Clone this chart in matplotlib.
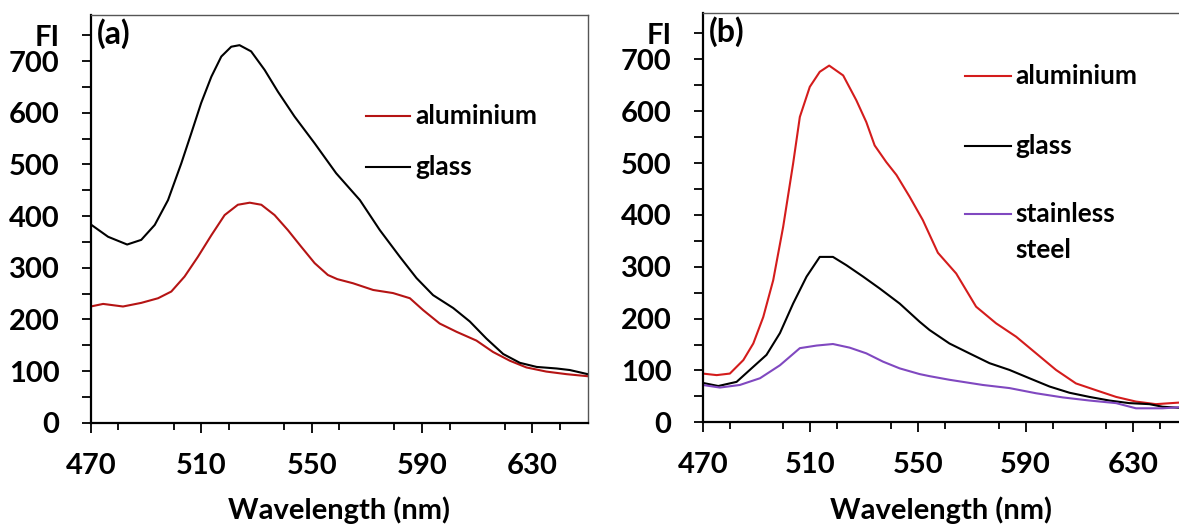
import matplotlib
matplotlib.use('Agg')
import matplotlib.pyplot as plt
from matplotlib.pyplot import MultipleLocator

plt.rcParams['font.family'] = ['Lato', 'DejaVu Sans']
plt.rcParams['font.weight'] = 'bold'

# panel (a) - smooth spectra
wl_a_glass = [470, 476.3, 483.2, 488.3, 493.2, 498, 502.8, 506.4, 510, 513.7, 517.3, 520.9,
              523.9, 528.1, 533, 537.8, 543.8, 551.1, 558.9, 567.5, 574.7, 582, 588, 594,
              601.3, 607.3, 613.3, 619.4, 625.4, 631.5, 638.7, 643.5, 650]
fi_a_glass = [384, 360, 345, 354, 383, 431, 502, 560, 619, 670, 709, 728,
              731, 719, 683, 641, 593, 541, 483, 431, 373, 321, 280, 247,
              222, 196, 163, 133, 116, 108, 105, 102, 94]
wl_a_alu = [470, 474.5, 481.7, 488.3, 494.4, 499.2, 504, 508.8, 513.7, 518.5, 523.3, 527.6,
            531.8, 536.6, 541.4, 546.2, 551.1, 555.9, 559.3, 565, 572.3, 579.5, 585.6,
            590.4, 596.4, 602.5, 609.7, 615.7, 621.8, 627.8, 635, 642.3, 650]
fi_a_alu = [225, 230, 225, 232, 241, 254, 283, 321, 363, 402, 422, 426,
            422, 402, 373, 341, 309, 286, 278, 270, 257, 251, 241,
            218, 192, 176, 159, 137, 120, 107, 99, 94, 90]

# panel (b) - noisier spectra
wl_b_alu = [470, 475.2, 480.1, 485.1, 488.8, 492.5, 496.2, 499.9, 503.6, 506.1, 509.8, 513.5,
            517, 522.2, 527.1, 530.8, 533.9, 538.2, 542, 546.9, 551.8, 557.4, 564.2, 571.6,
            579, 586.5, 593.9, 601.3, 608.7, 616.1, 623.6, 631, 638.4, 647]
fi_b_alu = [94, 91, 94, 120, 152, 203, 274, 377, 499, 589, 647, 676,
            688, 669, 621, 579, 534, 502, 477, 435, 390, 327, 287, 223,
            191, 165, 133, 101, 75, 62, 49, 40, 35, 38]
wl_b_glass = [470, 475.8, 482.6, 487.5, 493.7, 498.7, 503.6, 508.6, 513.5, 518.4, 523.4, 529.6,
              535.8, 543.2, 550.6, 554.3, 561.7, 569.1, 576.6, 584, 591.4, 598.9, 606.3,
              613.7, 621.1, 628.5, 636, 640.9, 647]
fi_b_glass = [76, 70, 78, 101, 130, 172, 229, 281, 319, 319, 303, 281,
              258, 229, 194, 178, 152, 133, 114, 101, 85, 69, 57,
              49, 42, 37, 35, 30, 28]
wl_b_steel = [470, 476.4, 483.8, 491.3, 498.7, 506.1, 512.3, 518.4, 524.6, 530.8, 537, 543.2,
              550.6, 554.3, 561.7, 574.1, 584, 593.9, 603.8, 613.7, 623.6, 631, 640.9, 647]
fi_b_steel = [72, 67, 72, 85, 110, 143, 148, 151, 144, 133, 117, 104,
              93, 89, 82, 72, 66, 56, 48, 42, 37, 27, 27, 29]

red_a = '#B51414'
red_b = '#D41C1C'
purple = '#8048C0'

fig = plt.figure(figsize=(11.79, 5.29), dpi=100)
W, H = 1179.0, 529.0
ax1 = fig.add_axes([90.7 / W, 1 - 422.7 / H, 497 / W, 408 / H])
ax2 = fig.add_axes([702.7 / W, 1 - 422.3 / H, (W - 702.7) / W, 409.6 / H])


def styleAxis(ax, xmax, label, show_right=True):
    ax.set_xlim(470, xmax)
    ax.set_ylim(0, 790)
    ax.set_yticks([0, 100, 200, 300, 400, 500, 600, 700, 750])
    ax.set_yticklabels(['0', '100', '200', '300', '400', '500', '600', '700', 'FI'])
    ax.yaxis.set_minor_locator(MultipleLocator(50))
    ax.set_xticks([470, 510, 550, 590, 630])
    ax.xaxis.set_minor_locator(MultipleLocator(20))
    ax.tick_params(axis='y', which='both', direction='out', length=6.5, width=1.3,
                   pad=16, labelsize=21)
    ax.tick_params(axis='x', which='major', direction='out', length=7.5, width=1.3,
                   pad=14, labelsize=21)
    ax.tick_params(axis='x', which='minor', direction='out', length=5, width=1.3)
    for lab in ax.get_xticklabels() + ax.get_yticklabels():
        lab.set_fontweight('bold')
    ax.spines['left'].set_linewidth(1.6)
    ax.spines['bottom'].set_linewidth(1.6)
    ax.spines['top'].set_color('#555555')
    ax.spines['top'].set_linewidth(1.0)
    ax.spines['right'].set_color('#555555')
    ax.spines['right'].set_linewidth(1.0)
    ax.spines['right'].set_visible(show_right)
    ax.set_xlabel('Wavelength (nm)', fontsize=21, fontweight='bold', labelpad=13)
    ax.text(0.013, 0.953, label, transform=ax.transAxes, fontsize=23,
            fontweight='bold', va='center', ha='left')


def drawLegend(ax, entries, x0, x1, ys):
    for (name, color), y in zip(entries, ys):
        ax.plot([x0, x1], [y, y], color=color, lw=1.5, transform=ax.transAxes,
                clip_on=False)
        ax.text(x1 + 0.01, y, name, transform=ax.transAxes, fontsize=19,
                fontweight='bold', va='center', ha='left')


# panel (a)
ax1.plot(wl_a_alu, fi_a_alu, color=red_a, lw=1.5)
ax1.plot(wl_a_glass, fi_a_glass, color='black', lw=1.5)
styleAxis(ax1, 650, '(a)')
drawLegend(ax1, [('aluminium', red_a), ('glass', 'black')],
           (366 - 90.7) / 497, (410 - 90.7) / 497,
           [(422.7 - 116) / 408, (422.7 - 167) / 408])

# panel (b)
ax2.plot(wl_b_alu, fi_b_alu, color=red_b, lw=1.5)
ax2.plot(wl_b_glass, fi_b_glass, color='black', lw=1.5)
ax2.plot(wl_b_steel, fi_b_steel, color=purple, lw=1.5)
styleAxis(ax2, 647, '(b)', show_right=False)
bw = W - 702.7
drawLegend(ax2, [('aluminium', red_b), ('glass', 'black'), ('stainless', purple)],
           (964.6 - 702.7) / bw, (1011 - 702.7) / bw,
           [(422.3 - 76) / 409.6, (422.3 - 146) / 409.6, (422.3 - 214.5) / 409.6])
ax2.text((1011 - 702.7) / bw + 0.01, (422.3 - 250) / 409.6, 'steel',
         transform=ax2.transAxes, fontsize=19, fontweight='bold', va='center', ha='left')

fig.savefig('out.png', dpi=100)
